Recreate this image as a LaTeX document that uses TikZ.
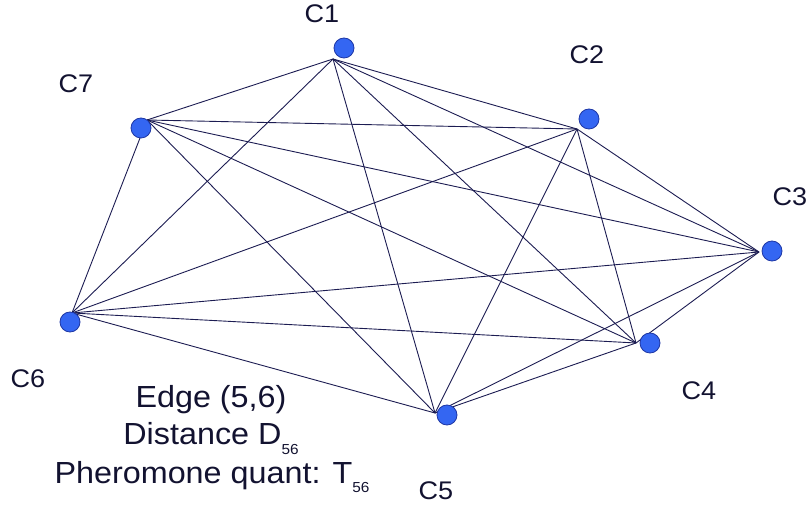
\documentclass[tikz,border=0pt]{standalone}
\usepackage{fontspec}
\setmainfont{Liberation Sans}
\newfontfamily\widesans[FakeStretch=1.06]{Liberation Sans}
\usetikzlibrary{positioning}
\definecolor{edgenavy}{RGB}{28,28,82}
\definecolor{cityblue}{RGB}{52,102,242}
\definecolor{cityrim}{RGB}{30,55,165}
\definecolor{inknavy}{RGB}{18,18,48}
\tikzset{
  city/.style={circle,draw=cityrim,fill=cityblue,minimum size=20pt,inner sep=0pt,line width=0.8pt},
  tag/.style={font=\widesans\fontsize{25.5}{30}\selectfont,text=inknavy,inner sep=0pt},
  note/.style={font=\widesans\fontsize{30.5}{36}\selectfont,text=inknavy,inner sep=0pt,anchor=base},
  link/.style={draw=edgenavy,line width=0.9pt}
}
\newcommand{\lowsub}[1]{\raisebox{-0.3em}{\fontsize{14.5}{14.5}\selectfont #1}}

\begin{document}
\begin{tikzpicture}[x=1pt,y=-1pt]
\useasboundingbox (0,0) rectangle (809,510);
% points where the edges meet, next to each city
\foreach \k/\x/\y in {1/333/59,2/577/129,3/759/252,4/636/343,5/435/413,6/72/313,7/147/120} {
  \coordinate (h\k) at (\x,\y);
}
\foreach \a/\b in {1/2,1/3,1/4,1/5,1/6,1/7,2/3,2/4,2/5,2/6,2/7,3/4,3/5,3/6,3/7,4/5,4/6,4/7,5/6,5/7,6/7} {
  \draw[link] (h\a) -- (h\b);
}
% cities and their names
\foreach \k/\x/\y/\lx/\ly in {1/344/48/322/14,2/589/119/587/55,3/772/251/790/197,4/650/343/699/391,5/447/415/436/491,6/70/322/28/379,7/141/128/76/84} {
  \node[city] (c\k) at (\x,\y) {};
  \node[tag] (t\k) at (\lx,\ly) {C\k};
}
\node[note] (edge) at (211,408) {Edge (5,6)};
\node[note] (dist) at (211,445) {Distance D\lowsub{56}};
\node[note] (pher) at (212,483) {Pheromone quant: T\lowsub{56}};
\end{tikzpicture}
\end{document}
